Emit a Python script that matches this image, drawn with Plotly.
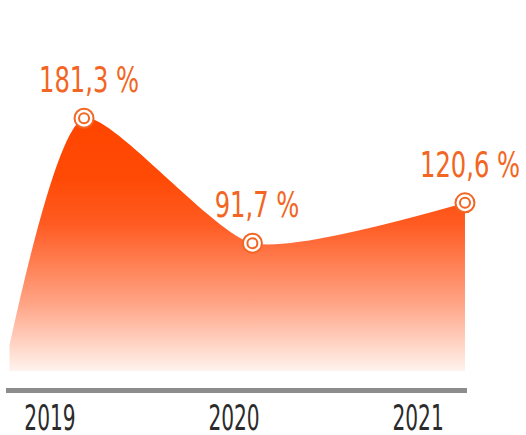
import plotly.graph_objects as go

# Yearly growth rates
years = [2019, 2020, 2021]
year_labels = ["2019", "2020", "2021"]
growth = [181.3, 91.7, 120.6]
value_labels = ["181,3 %", "91,7 %", "120,6 %"]

# where each reading sits along the time axis
point_pos = [2019.185, 2020.10, 2021.255]

# the curve starts from a low level just before the first year
lead_pos = 2018.78
lead_value = 18.5

ORANGE = "#f26522"
TEXT_FONT = "DejaVu Sans Condensed, DejaVu Sans, sans-serif"

fig = go.Figure()

# gradient-filled area under a smoothed curve
fig.add_trace(go.Scatter(
    x=[lead_pos] + point_pos,
    y=[lead_value] + growth,
    mode="lines",
    line=dict(shape="spline", smoothing=0.62, width=0, color="#ff4500"),
    fill="tozeroy",
    fillgradient=dict(
        type="vertical",
        colorscale=[
            [0.0, "#fff3ee"],
            [0.27, "#ffa384"],
            [0.58, "#ff5b22"],
            [0.76, "#ff4a06"],
            [1.0, "#ff4500"],
        ],
    ),
    hoverinfo="skip",
    showlegend=False,
))

# double-ring markers: outer ring
fig.add_trace(go.Scatter(
    x=point_pos, y=growth, mode="markers",
    marker=dict(size=19, color="white", line=dict(color=ORANGE, width=2)),
    cliponaxis=False, showlegend=False, hoverinfo="skip",
))
# inner ring
fig.add_trace(go.Scatter(
    x=point_pos, y=growth, mode="markers",
    marker=dict(size=10, color="white", line=dict(color=ORANGE, width=2)),
    cliponaxis=False, showlegend=False, hoverinfo="skip",
))

for xp, v, lab in zip(point_pos, growth, value_labels):
    fig.add_annotation(
        x=xp, y=v, text=lab, showarrow=False,
        xanchor="center", yanchor="middle", yshift=38, xshift=5,
        font=dict(family=TEXT_FONT, size=35, color=ORANGE),
    )

fig.update_layout(
    width=526, height=435,
    margin=dict(l=6, r=59, t=0, b=47, autoexpand=False),
    paper_bgcolor="white", plot_bgcolor="white",
    xaxis=dict(
        range=[2018.761, 2021.266],
        tickvals=years, ticktext=year_labels,
        showgrid=False, zeroline=False,
        showline=True, linecolor="#8c8c8c", linewidth=5,
        ticks="", ticklabelstandoff=-5, automargin=False,
        tickfont=dict(family=TEXT_FONT, size=35, color="#2b2b2b"),
        fixedrange=True,
    ),
    yaxis=dict(
        range=[-12.2, 266.1],
        visible=False, showgrid=False, zeroline=False, fixedrange=True,
    ),
)

# Condensed lettering: squeeze the rendered labels horizontally
condense_js = """
var gd = document.getElementById('{plot_id}');
function squeeze(sel, k) {
  gd.querySelectorAll(sel).forEach(function (t) {
    var w = t.getComputedTextLength();
    t.setAttribute('textLength', (w * k).toFixed(1));
    t.setAttribute('lengthAdjust', 'spacingAndGlyphs');
  });
}
squeeze('.annotation-text', 0.77);
squeeze('.xtick text', 0.64);
"""

fig.write_html("out.html", post_script=condense_js, config={"staticPlot": True})
